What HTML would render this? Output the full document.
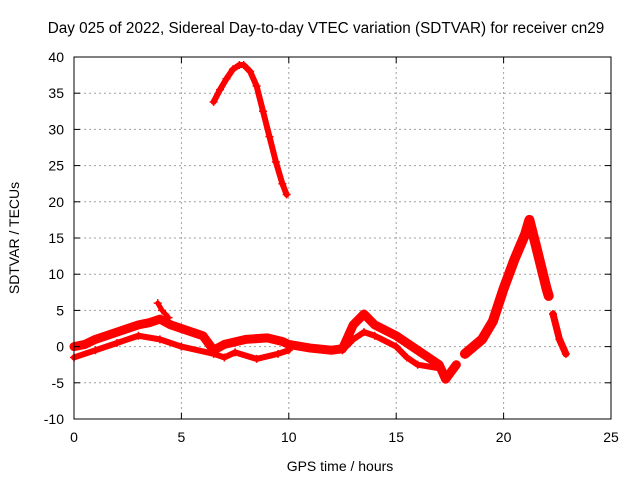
<!DOCTYPE html>
<html><head><meta charset="utf-8"><style>
body{margin:0;background:#fff}
svg{display:block;font-family:"Liberation Sans",sans-serif}
</style></head><body>
<svg id="chart" width="640" height="480">
<text x="326" y="33" font-size="15.3" text-anchor="middle">Day 025 of 2022, Sidereal Day-to-day VTEC variation (SDTVAR) for receiver cn29</text>
<text x="340" y="471" font-size="14" text-anchor="middle">GPS time / hours</text>
<text transform="translate(19,238) rotate(-90)" font-size="14" text-anchor="middle">SDTVAR / TECUs</text>
<g id="grid"></g><g id="marks"></g><g id="axes"></g>
</svg>
<script>
const xTicks=[0,5,10,15,20,25];
const yTicks=[-10,-5,0,5,10,15,20,25,30,35,40];
const arcX=[6.5,6.8,7.1,7.4,7.7,7.9,8.2,8.5,8.8,9.1,9.4,9.7,9.9];
const arcY=[33.8,35.5,37,38.3,38.9,38.9,38,36,32.5,29,25.5,22.5,21];
const mainX=[0,0.5,1,2,3,3.5,4,4.5,5,5.5,6,6.5,7,8,9,9.7,10,11,12,12.5,13,13.5,14,15,16,17,17.3,17.8];
const mainY=[0,0.3,1,2,3,3.3,3.8,3,2.5,2,1.5,-0.5,0.3,1,1.2,0.7,0.3,-0.2,-0.5,-0.3,3,4.5,3,1.5,-0.5,-2.5,-4.5,-2.5];
const lowX=[0,1,2,3,4,5,6.5,7,7.5,8.5,9.5,10];
const lowY=[-1.5,-0.5,0.5,1.5,1,0,-1,-1.5,-0.8,-1.7,-1,-0.5];
const midX=[12.5,13,13.5,14,15,15.5,16,17];
const midY=[-0.5,1,2,1.5,0,-1.5,-2.5,-3];
const spikeX=[3.9,4.1,4.4];
const spikeY=[6,5,4];
const lateX=[18.2,19,19.5,20,20.5,21,21.2,21.5,22,22.1];
const lateY=[-1,1,3.5,8,12,15.5,17.5,14,8,7];
const tailX=[22.3,22.6,22.9];
const tailY=[4.5,1,-1];
const L=74,R=611,T=57,B=419;
const xs=v=>L+(v-0)/(25-0)*(R-L);
const ys=v=>B-(v+10)/50*(B-T);
const NS='http://www.w3.org/2000/svg';
function mk(t,a,p){const e=document.createElementNS(NS,t);for(const k in a)e.setAttribute(k,a[k]);p.appendChild(e);return e;}
const grid=document.getElementById('grid'),axes=document.getElementById('axes'),marks=document.getElementById('marks');
xTicks.forEach(v=>{const x=xs(v);
 if(v>0&&v<25){const g=mk('line',{x1:x,x2:x,y1:T,y2:B,stroke:'#a0a0a0','stroke-dasharray':'2,3'},grid);
 
 }
 mk('line',{x1:x,x2:x,y1:B,y2:B-6,stroke:'#000'},axes);mk('line',{x1:x,x2:x,y1:T,y2:T+6,stroke:'#000'},axes);
 const t=mk('text',{x:x,y:B+23,'font-size':14,'text-anchor':'middle'},axes);t.textContent=v;
 
 });
yTicks.forEach(v=>{const y=ys(v);
 if(v>-10&&v<40){const g=mk('line',{x1:L,x2:R,y1:y,y2:y,stroke:'#a0a0a0','stroke-dasharray':'2,3'},grid);
 
 }
 mk('line',{x1:L,x2:L+6,y1:y,y2:y,stroke:'#000'},axes);mk('line',{x1:R,x2:R-6,y1:y,y2:y,stroke:'#000'},axes);
 const t=mk('text',{x:L-10,y:y+5,'font-size':14,'text-anchor':'end'},axes);t.textContent=v;
 
 });
const fr=mk('rect',{x:L,y:T,width:R-L,height:B-T,fill:'none',stroke:'#000'},axes);


function series(X,Y,w,name){
 const g=mk('g',{},marks);
 
 
 mk('polyline',{points:X.map((x,i)=>xs(x)+','+ys(Y[i])).join(' '),fill:'none',stroke:'#f00','stroke-width':w,'stroke-linejoin':'round','stroke-linecap':'round'},g);
 X.forEach((x,i)=>{const px=xs(x),py=ys(Y[i]);
  mk('path',{d:`M${px-4},${py}H${px+4}M${px},${py-4}V${py+4}`,stroke:'#f00','stroke-width':1.5},g);});
}
series(arcX,arcY,6,'series-arc');
series(mainX,mainY,9,'series-main');
series(lowX,lowY,6,'series-lower');
series(midX,midY,6,'series-mid');
series(spikeX,spikeY,5,'series-spike');
series(lateX,lateY,10,'series-late');
series(tailX,tailY,7,'series-tail');
</script>
</body></html>
